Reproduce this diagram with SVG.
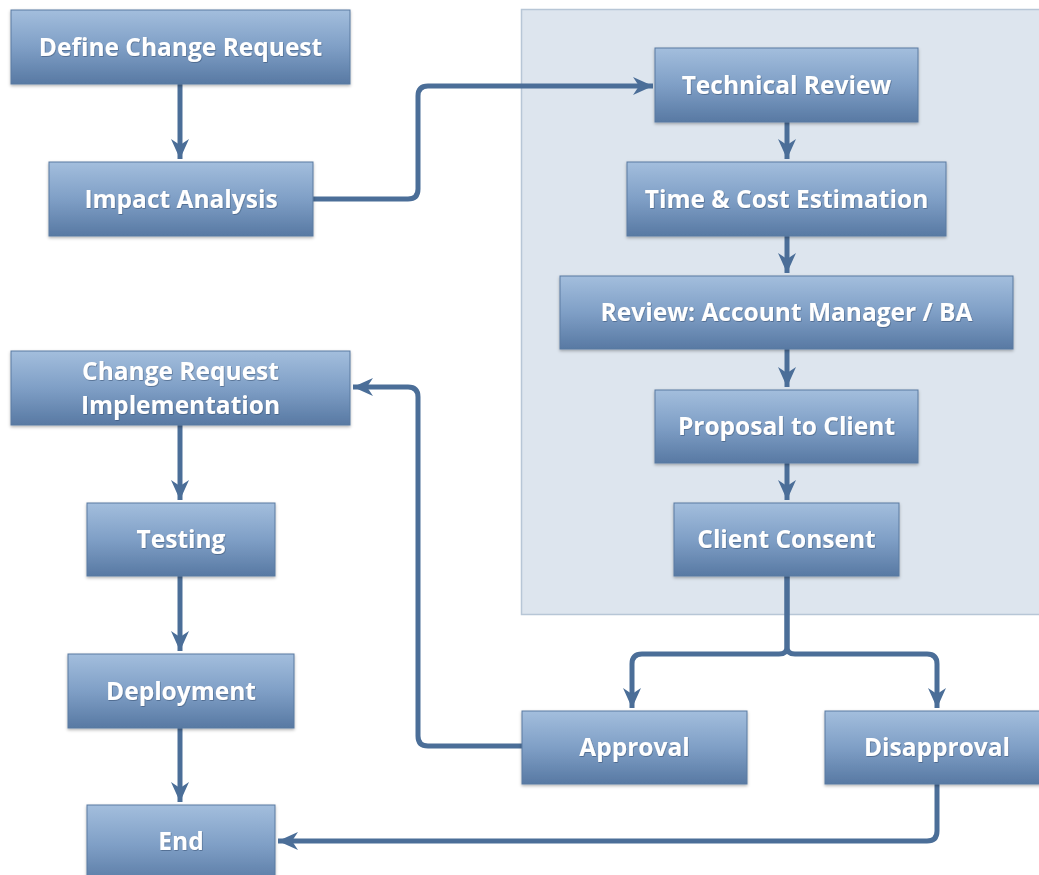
<svg xmlns="http://www.w3.org/2000/svg" width="1039" height="875" viewBox="0 0 1039 875">
  <defs>
    <linearGradient id="boxFill" x1="0" y1="0" x2="0" y2="1">
      <stop offset="0" stop-color="#a3bedd"/>
      <stop offset="0.5" stop-color="#7f9fc6"/>
      <stop offset="1" stop-color="#5879a3"/>
    </linearGradient>
    <filter id="shadow" x="-10%" y="-10%" width="120%" height="130%">
      <feDropShadow dx="0" dy="1.5" stdDeviation="1.5" flood-color="#000" flood-opacity="0.3"/>
    </filter>
    <filter id="textShadow" x="-5%" y="-20%" width="110%" height="140%">
      <feDropShadow dx="0.6" dy="0.8" stdDeviation="0.6" flood-color="#2c4466" flood-opacity="0.6"/>
    </filter>
    <marker id="arrow" markerUnits="userSpaceOnUse" markerWidth="22" markerHeight="20" viewBox="0 0 22 20" refX="20" refY="10" orient="auto">
      <path d="M0,1 L20,10 L0,19 L6,10 Z" fill="#4b6e98"/>
    </marker>
  </defs>
  <style>
    .box { fill: url(#boxFill); stroke: #5a7aa1; stroke-width: 1; filter: url(#shadow); }
    .label { font-family: "Open Sans", "Noto Sans", "Liberation Sans", sans-serif; font-weight: bold; font-size: 24.5px; fill: #ffffff; text-anchor: middle; filter: url(#textShadow); }
    .link { fill: none; stroke: #4b6e98; stroke-width: 5; stroke-linejoin: round; }
    .arrowed { marker-end: url(#arrow); }
  </style>

  <rect width="1039" height="875" fill="#ffffff"/>

  <!-- review panel -->
  <rect id="review-panel" x="521.5" y="9.5" width="530" height="605" fill="#dde5ee" stroke="#b7c6d6" stroke-width="1.5"/>

  <g id="connectors">
    <path class="link arrowed" d="M180,84 V159"/>
    <path class="link arrowed" d="M313,199 H408 Q418,199 418,189 V96 Q418,86 428,86 H653"/>
    <path class="link arrowed" d="M787,122 V159"/>
    <path class="link arrowed" d="M787,236 V273"/>
    <path class="link arrowed" d="M787,349 V387"/>
    <path class="link arrowed" d="M787,463 V500"/>
    <path class="link arrowed" d="M787,576 V647 Q787,654 779,654 H642 Q632,654 632,664 V708"/>
    <path class="link arrowed" d="M787,576 V647 Q787,654 795,654 H927 Q937,654 937,664 V708"/>
    <path class="link arrowed" d="M522,746 H428 Q418,746 418,736 V397 Q418,387 408,387 H353"/>
    <path class="link arrowed" d="M180,425 V500"/>
    <path class="link arrowed" d="M180,576 V651"/>
    <path class="link arrowed" d="M180,728 V802"/>
    <path class="link arrowed" d="M937,784 V831 Q937,841 927,841 H278"/>
  </g>

  <g id="define-change-request">
    <rect class="box" x="11" y="10" width="339" height="74"/>
    <text class="label" x="180.5" y="56">Define Change Request</text>
  </g>
  <g id="impact-analysis">
    <rect class="box" x="49" y="162" width="264" height="74"/>
    <text class="label" x="181" y="208">Impact Analysis</text>
  </g>
  <g id="technical-review">
    <rect class="box" x="655" y="48" width="263" height="74"/>
    <text class="label" x="786.5" y="94">Technical Review</text>
  </g>
  <g id="time-cost-estimation">
    <rect class="box" x="627" y="162" width="319" height="74"/>
    <text class="label" x="786.5" y="208">Time &amp; Cost Estimation</text>
  </g>
  <g id="account-manager-review">
    <rect class="box" x="560" y="276" width="453" height="73"/>
    <text class="label" x="786.5" y="321">Review: Account Manager / BA</text>
  </g>
  <g id="proposal-to-client">
    <rect class="box" x="655" y="390" width="263" height="73"/>
    <text class="label" x="786.5" y="435">Proposal to Client</text>
  </g>
  <g id="client-consent">
    <rect class="box" x="674" y="503" width="225" height="73"/>
    <text class="label" x="786.5" y="548">Client Consent</text>
  </g>
  <g id="approval">
    <rect class="box" x="522" y="711" width="225" height="73"/>
    <text class="label" x="634.5" y="756">Approval</text>
  </g>
  <g id="disapproval">
    <rect class="box" x="825" y="711" width="225" height="73"/>
    <text class="label" x="937" y="756">Disapproval</text>
  </g>
  <g id="change-request-implementation">
    <rect class="box" x="11" y="351" width="339" height="74"/>
    <text class="label" x="180.5" y="380">Change Request</text>
    <text class="label" x="180.5" y="414">Implementation</text>
  </g>
  <g id="testing">
    <rect class="box" x="87" y="503" width="188" height="73"/>
    <text class="label" x="181" y="548">Testing</text>
  </g>
  <g id="deployment">
    <rect class="box" x="68" y="654" width="226" height="74"/>
    <text class="label" x="181" y="700">Deployment</text>
  </g>
  <g id="end">
    <rect class="box" x="87" y="805" width="188" height="80"/>
    <text class="label" x="181" y="850">End</text>
  </g>
</svg>
